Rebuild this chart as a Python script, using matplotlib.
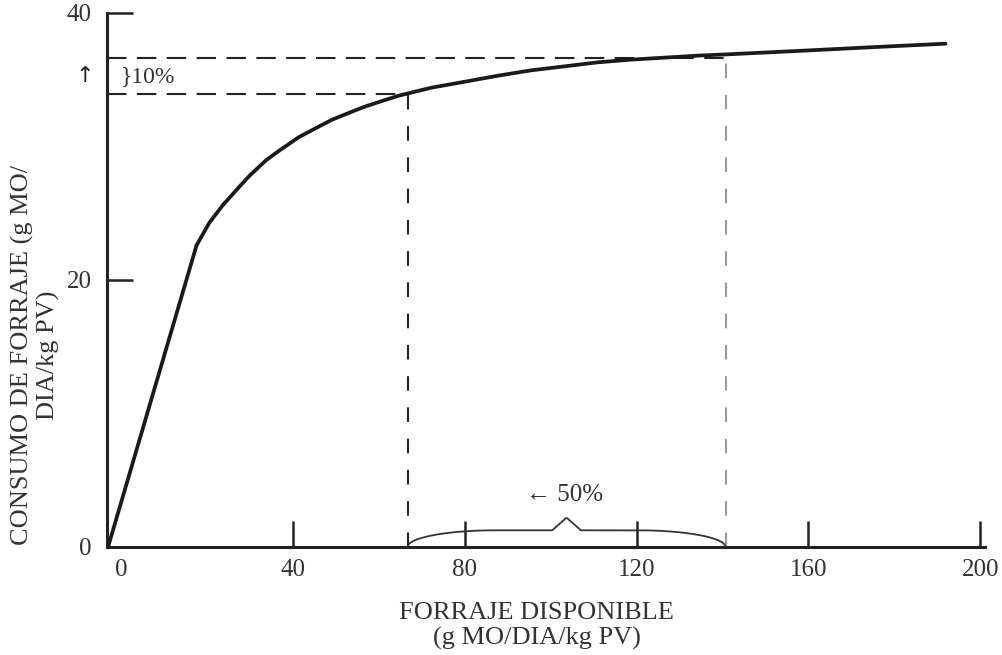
import numpy as np
import matplotlib
matplotlib.use('Agg')
import matplotlib.pyplot as plt

# Curva de consumo
forraje = [-3.0, 17.6, 20.6, 23.7, 27.6, 29.9, 33.7, 36.0, 41.4, 46.1, 49.1, 53.7, 56.9,
           60.7, 64.6, 72.2, 80.0, 87.7, 95.4, 103.2, 110.9, 118.5, 126.3, 134.0, 141.0,
           157.2, 175.7, 191.9]
consumo = [0.0, 22.6, 24.3, 25.6, 27.0, 27.8, 28.95, 29.5, 30.7, 31.5, 32.0, 32.6, 33.0,
           33.4, 33.8, 34.4, 34.85, 35.3, 35.7, 36.0, 36.3, 36.5, 36.65, 36.8, 36.9,
           37.15, 37.45, 37.7]

# Niveles de referencia
consumo_max = 36.6      # nivel máximo
consumo_90 = 33.9       # 10% por debajo
forraje_max = 140.7     # forraje para consumo máximo
forraje_90 = 66.7       # ~50% del forraje

xticks = [0, 40, 80, 120, 160, 200]
yticks = [0, 20, 40]

plt.rcParams['font.family'] = ['Liberation Serif', 'DejaVu Serif']
plt.rcParams['lines.scale_dashes'] = False
txt_color = '#333333'

fig = plt.figure(figsize=(10.03, 6.55), dpi=100)
ax = fig.add_axes([0.1067, 0.1649, 0.875, 0.8153])
ax.set_xlim(-3.24, 201)
ax.set_ylim(0, 40)

for s in ['top', 'right']:
    ax.spines[s].set_visible(False)
for s in ['left', 'bottom']:
    ax.spines[s].set_linewidth(2.2)
    ax.spines[s].set_color('#222222')

ax.set_xticks(xticks)
ax.set_yticks(yticks)
ax.tick_params(axis='x', direction='in', length=19, width=1.8, pad=9,
               labelsize=18, labelcolor=txt_color, color='#222222')
ax.tick_params(axis='y', direction='in', length=19, width=1.8, pad=11,
               labelsize=18, labelcolor=txt_color, color='#222222')
ax.xaxis.get_major_ticks()[0].tick1line.set_visible(False)
ax.yaxis.get_major_ticks()[0].tick1line.set_visible(False)

# curva principal
ax.plot(forraje, consumo, color='#1a1a1a', linewidth=2.7, solid_joinstyle='round',
        solid_capstyle='round', clip_on=False, zorder=4)

# líneas de referencia discontinuas
ax.plot([-3.24, forraje_max], [consumo_max, consumo_max], color='#222222',
        linewidth=1.5, dashes=(14, 7.5), clip_on=False)
ax.plot([-3.24, forraje_90], [consumo_90, consumo_90], color='#222222',
        linewidth=1.5, dashes=(14, 7.5), clip_on=False)
ax.plot([forraje_90, forraje_90], [0, consumo_90], color='#222222',
        linewidth=1.5, dashes=(10.5, 12))
ax.plot([forraje_max, forraje_max], [0, consumo_max], color='#9a9a9a',
        linewidth=1.5, dashes=(10.5, 12))

# llave horizontal entre forraje_90 y forraje_max
t = np.linspace(0, 1, 300)
u = np.abs(2 * t - 1)
h = 1.25
brace_y = h * np.sqrt(np.clip(1 - np.clip((u - 0.45) / 0.55, 0, 1) ** 2, 0, 1))
brace_y = brace_y + np.clip(1 - u / 0.09, 0, 1) * 0.95
brace_x = forraje_90 + t * (forraje_max - forraje_90)
ax.plot(brace_x, brace_y, color='#333333', linewidth=1.3, zorder=3)

# anotaciones
ax.text((forraje_90 + forraje_max) / 2 - 0.5, 3.1, '← 50%', ha='center', va='bottom',
        fontsize=18, color=txt_color)
ax.text(0.0, (consumo_max + consumo_90) / 2, '}10%', ha='left', va='center',
        fontsize=17, color=txt_color)
ax.text(-8.5, (consumo_max + consumo_90) / 2, '↑', ha='center', va='center',
        fontsize=16, color='#222222', family='DejaVu Sans', clip_on=False)

fig.text(0.535, 0.044, 'FORRAJE DISPONIBLE\n(g MO/DIA/kg PV)', ha='center', va='center',
         fontsize=19, color=txt_color, linespacing=1.15)
fig.text(0.035, 0.458, 'CONSUMO DE FORRAJE (g MO/\nDIA/kg PV)', ha='center', va='center',
         rotation=90, fontsize=19, color=txt_color, linespacing=1.15)

fig.savefig('out.png', dpi=100, facecolor='white')
